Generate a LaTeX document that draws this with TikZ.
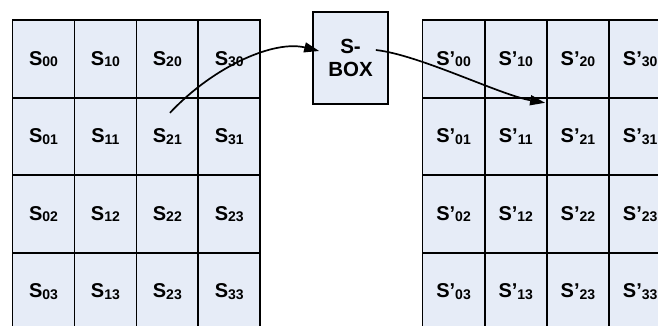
\documentclass[tikz,border=0pt]{standalone}
\usepackage{fontspec}
\setmainfont{Liberation Sans}
\usetikzlibrary{arrows.meta,calc}
\definecolor{cellfill}{RGB}{230,236,247}
% state-cell labels: bold S with a lowered index
\newcommand{\cellsub}[1]{\raisebox{-1.5pt}{\fontsize{14}{16}\selectfont #1}}
\newcommand{\cs}[1]{S\cellsub{#1}}
\newcommand{\cp}[1]{S’\cellsub{#1}}
\begin{document}
\begin{tikzpicture}[x=1pt,y=-1pt,
  labelfont/.style={font=\fontsize{20}{23.5}\selectfont\bfseries},
  cellbox/.style={draw=black,line width=1.7pt,fill=cellfill,
    minimum width=62pt,minimum height=77.5pt,inner sep=0pt,
    anchor=north west,labelfont},
  boxstyle/.style={draw=black,line width=1.7pt,fill=cellfill,
    minimum width=75pt,minimum height=92pt,inner sep=0pt,
    align=center,font=\fontsize{20.5}{23.5}\selectfont\bfseries},
  conn/.style={line width=1.7pt,-{Triangle[length=15pt,width=10pt]}}]
\useasboundingbox (0,0) rectangle (658,325);
\clip (0,0) rectangle (658,325);

% input state
\foreach \lab [count=\k from 0] in {00,10,20,30,01,11,21,31,02,12,22,23,03,13,23,33}{
  \pgfmathtruncatemacro\cc{mod(\k,4)}
  \pgfmathtruncatemacro\rr{div(\k,4)}
  \node[cellbox] (l\cc\rr) at (11.7+61.9*\cc, 19.3+77.5*\rr) {\cs{\lab}};
}

% output state
\foreach \lab [count=\k from 0] in {00,10,20,30,01,11,21,31,02,12,22,23,03,13,23,33}{
  \pgfmathtruncatemacro\cc{mod(\k,4)}
  \pgfmathtruncatemacro\rr{div(\k,4)}
  \node[cellbox] (r\cc\rr) at (421.7+62.2*\cc, 19.3+77.5*\rr) {\cp{\lab}};
}

% substitution box
\node[boxstyle] (sbox) at (350.5,58) {S-\\BOX};

% byte path through the S-box
\coordinate (src) at ($(l21.north west)+(34.5,16)$);
\coordinate (tipA) at ($(sbox.west)+(7,-7)$);
\coordinate (outB) at ($(sbox.east)+(-13,-8)$);
\coordinate (dst) at ($(r21.north west)+(-1,6)$);
\draw[conn] (src) .. controls (215,65) and (275,40) .. (tipA);
\draw[conn] (outB) .. controls (420,55) and (500,95) .. (dst);
\end{tikzpicture}
\end{document}
